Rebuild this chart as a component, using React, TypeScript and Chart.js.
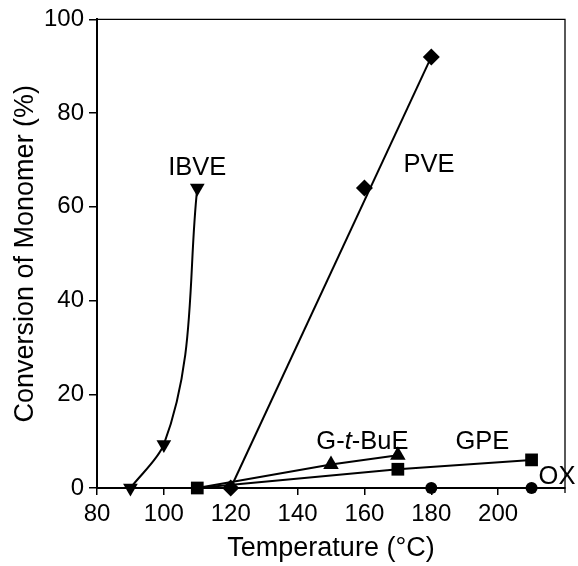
import React, { useEffect, useRef } from 'react';
import { Chart, registerables } from 'chart.js';

Chart.register(...registerables);

// Temperature (°C) and conversion (%) for each monomer
const ibveTemp = [90, 100, 110];
const ibveConv = [0, 9.3, 64];
const pveTemp = [120, 160, 180];
const pveConv = [0, 64, 92];
const pveFitTemp = [120, 180];
const pveFitConv = [0, 92];
const gtbueTemp = [110, 150, 170];
const gtbueConv = [0, 5, 7];
const gpeTemp = [110, 170, 210];
const gpeConv = [0, 4, 6];
const oxTemp = [180, 210];
const oxConv = [0, 0];

const xTickValues = [80, 100, 120, 140, 160, 180, 200];
const xMin = 80;
const xMax = 220;
const yMin = 0;
const yMax = 100;
const yStep = 20;

const seriesLabels = ['IBVE', 'PVE', 'G-t-BuE', 'GPE', 'OX'];
const labelTemp = [110, 179.3, 159.4, 195.3, 217.6];
const labelConv = [68.2, 68.9, 9.9, 9.9, 2.4];

const FONT = '"Liberation Sans", Arial, Helvetica, sans-serif';
const LABEL_SIZE = 25.5;

const pts = (xs: number[], ys: number[]) => xs.map((x, i) => ({ x, y: ys[i] }));

export default function App() {
  const ref = useRef<HTMLCanvasElement | null>(null);

  useEffect(() => {
    document.body.style.margin = '0';
    const canvas = ref.current;
    if (!canvas) return;

    const framePlugin = {
      id: 'frame',
      afterDraw(chart: any) {
        const { ctx, chartArea } = chart;
        ctx.save();
        ctx.strokeStyle = '#000';
        ctx.lineWidth = 1.3;
        ctx.beginPath();
        ctx.moveTo(chartArea.left, chartArea.top);
        ctx.lineTo(chartArea.right, chartArea.top);
        ctx.lineTo(chartArea.right, chartArea.bottom + 5);
        ctx.stroke();
        ctx.restore();
      },
    };

    const labelPlugin = {
      id: 'seriesLabels',
      afterDraw(chart: any) {
        const { ctx, scales } = chart;
        ctx.save();
        ctx.fillStyle = '#000';
        ctx.textBaseline = 'middle';
        seriesLabels.forEach((txt, i) => {
          const px = scales.x.getPixelForValue(labelTemp[i]);
          const py = scales.y.getPixelForValue(labelConv[i]);
          if (txt === 'G-t-BuE') {
            const parts = [
              { t: 'G-', it: false },
              { t: 't', it: true },
              { t: '-BuE', it: false },
            ];
            let total = 0;
            const widths = parts.map((p) => {
              ctx.font = `${p.it ? 'italic ' : ''}${LABEL_SIZE}px ${FONT}`;
              const w = ctx.measureText(p.t).width;
              total += w;
              return w;
            });
            let x = px - total / 2;
            ctx.textAlign = 'left';
            parts.forEach((p, k) => {
              ctx.font = `${p.it ? 'italic ' : ''}${LABEL_SIZE}px ${FONT}`;
              ctx.fillText(p.t, x, py);
              x += widths[k];
            });
          } else {
            ctx.font = `${LABEL_SIZE}px ${FONT}`;
            ctx.textAlign = 'center';
            ctx.fillText(txt, px, py);
          }
        });
        ctx.restore();
      },
    };

    const black = '#000';
    const chart = new Chart(canvas, {
      type: 'line',
      data: {
        datasets: [
          {
            label: 'IBVE',
            data: pts(ibveTemp, ibveConv),
            indexAxis: 'y',
            cubicInterpolationMode: 'monotone',
            borderColor: black,
            backgroundColor: black,
            borderWidth: 2,
            pointStyle: 'triangle',
            rotation: 180,
            pointRadius: 8.5,
            pointBorderWidth: 0,
            clip: false,
          } as any,
          {
            label: 'PVE fit',
            data: pts(pveFitTemp, pveFitConv),
            borderColor: black,
            borderWidth: 2,
            pointRadius: 0,
            clip: false,
          },
          {
            label: 'PVE',
            data: pts(pveTemp, pveConv),
            showLine: false,
            backgroundColor: black,
            borderColor: black,
            pointStyle: 'rectRot',
            pointRadius: 8.5,
            pointBorderWidth: 0,
            clip: false,
          },
          {
            label: 'G-t-BuE',
            data: pts(gtbueTemp, gtbueConv),
            borderColor: black,
            backgroundColor: black,
            borderWidth: 2,
            pointStyle: 'triangle',
            pointRadius: [0, 9, 9],
            pointBorderWidth: 0,
            clip: false,
          },
          {
            label: 'GPE',
            data: pts(gpeTemp, gpeConv),
            borderColor: black,
            backgroundColor: black,
            borderWidth: 2,
            pointStyle: 'rect',
            pointRadius: 9,
            pointBorderWidth: 0,
            clip: false,
          },
          {
            label: 'OX',
            data: pts(oxTemp, oxConv),
            showLine: false,
            borderColor: black,
            backgroundColor: black,
            pointStyle: 'circle',
            pointRadius: 6,
            pointBorderWidth: 0,
            clip: false,
          },
        ],
      },
      options: {
        responsive: false,
        animation: false,
        devicePixelRatio: 1,
        layout: { padding: { top: 19, right: 13, left: 0, bottom: 0 } },
        plugins: {
          legend: { display: false },
          tooltip: { enabled: false },
        },
        scales: {
          x: {
            type: 'linear',
            min: xMin,
            max: xMax,
            afterBuildTicks: (scale: any) => {
              scale.ticks = xTickValues.map((v) => ({ value: v }));
            },
            afterFit: (scale: any) => {
              scale.height = 78;
            },
            border: { display: true, color: black, width: 2 },
            grid: {
              drawOnChartArea: false,
              drawTicks: true,
              tickLength: 7,
              color: black,
              lineWidth: 1.5,
            },
            ticks: {
              color: black,
              font: { family: FONT, size: 24 },
              padding: 5,
              maxRotation: 0,
              autoSkip: false,
            },
            title: {
              display: true,
              text: 'Temperature (°C)',
              color: black,
              font: { family: FONT, size: 27 },
              padding: { top: 0, bottom: 1 },
            },
          },
          y: {
            type: 'linear',
            min: yMin,
            max: yMax,
            afterFit: (scale: any) => {
              scale.width = 97;
            },
            border: { display: true, color: black, width: 2 },
            grid: {
              drawOnChartArea: false,
              drawTicks: true,
              tickLength: 8,
              color: black,
              lineWidth: 1.5,
            },
            ticks: {
              stepSize: yStep,
              color: black,
              font: { family: FONT, size: 24 },
              padding: 5,
            },
            title: {
              display: true,
              text: 'Conversion of Monomer (%)',
              color: black,
              font: { family: FONT, size: 27 },
              padding: { top: 9, bottom: 0 },
            },
          },
        },
      } as any,
      plugins: [framePlugin, labelPlugin],
    });

    return () => chart.destroy();
  }, []);

  return (
    <div style={{ width: 578, height: 566, background: '#fff' }}>
      <canvas ref={ref} width={578} height={566} style={{ display: 'block' }} />
    </div>
  );
}
